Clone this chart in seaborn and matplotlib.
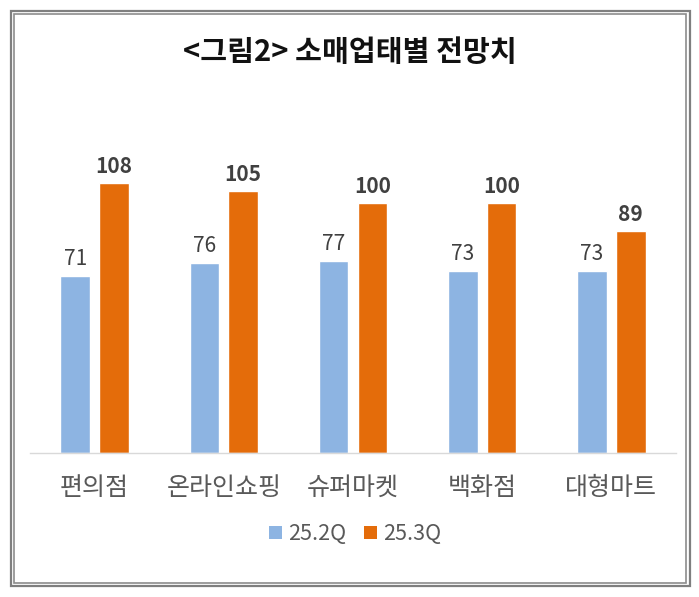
import matplotlib
matplotlib.use("Agg")
import matplotlib.pyplot as plt
from matplotlib.patches import Rectangle, Patch
import seaborn as sns
import pandas as pd

categories = ["편의점", "온라인쇼핑", "슈퍼마켓", "백화점", "대형마트"]
series_names = ["25.2Q", "25.3Q"]
q2_values = [71, 76, 77, 73, 73]
q3_values = [108, 105, 100, 100, 89]
title_text = "<그림2> 소매업태별 전망치"

colors = ["#8DB4E2", "#E46C0A"]

df = pd.DataFrame({
    "category": categories * 2,
    "series": [series_names[0]] * len(categories) + [series_names[1]] * len(categories),
    "value": q2_values + q3_values,
})

sns.set_theme(style="white")
plt.rcParams["font.family"] = ["Noto Sans CJK KR", "DejaVu Sans"]

W, H = 699, 597
fig = plt.figure(figsize=(W / 100, H / 100), dpi=100)
fig.patch.set_facecolor("white")

ax = fig.add_axes([30 / W, 1 - 453 / H, 646 / W, 300 / H])
sns.barplot(data=df, x="category", y="value", hue="series", palette=colors,
            width=0.6, gap=0.24, ax=ax, legend=False, saturation=1)
ax.set_ylim(0, 120)
ax.set_xlim(-0.5, len(categories) - 0.5)
for s in ["top", "right", "left"]:
    ax.spines[s].set_visible(False)
ax.spines["bottom"].set_color("#D9D9D9")
ax.spines["bottom"].set_linewidth(1.0)
ax.set_yticks([])
ax.set_xlabel("")
ax.set_ylabel("")
ax.tick_params(axis="x", length=0, pad=16, labelsize=18, labelcolor="#595959")

for i, cont in enumerate(ax.containers):
    ax.bar_label(cont, labels=[str(v) for v in (q2_values if i == 0 else q3_values)],
                 padding=4, fontsize=15, color="#404040",
                 fontweight="normal" if i == 0 else "bold")

handles = [Patch(facecolor=c, edgecolor="none") for c in colors]
fig.legend(handles, series_names, loc="center", bbox_to_anchor=(355 / W, 1 - 534 / H),
           ncol=2, frameon=False, fontsize=15.5, handlelength=0.6, handleheight=0.6,
           handletextpad=0.3, columnspacing=0.8, labelcolor="#595959")

fig.text(350 / W, 1 - 52 / H, title_text, ha="center", va="center",
         fontsize=21, fontweight="bold", color="#111111")

# double frame
fig.patches.append(Rectangle((10.5 / W, 1 - 586 / H), 679 / W, 575.5 / H,
                             transform=fig.transFigure, fill=False,
                             edgecolor="#7F7F7F", linewidth=1.6))
fig.patches.append(Rectangle((14 / W, 1 - 582.5 / H), 672 / W, 568.5 / H,
                             transform=fig.transFigure, fill=False,
                             edgecolor="#8C8C8C", linewidth=1.2))

fig.savefig("out.png", dpi=100)
